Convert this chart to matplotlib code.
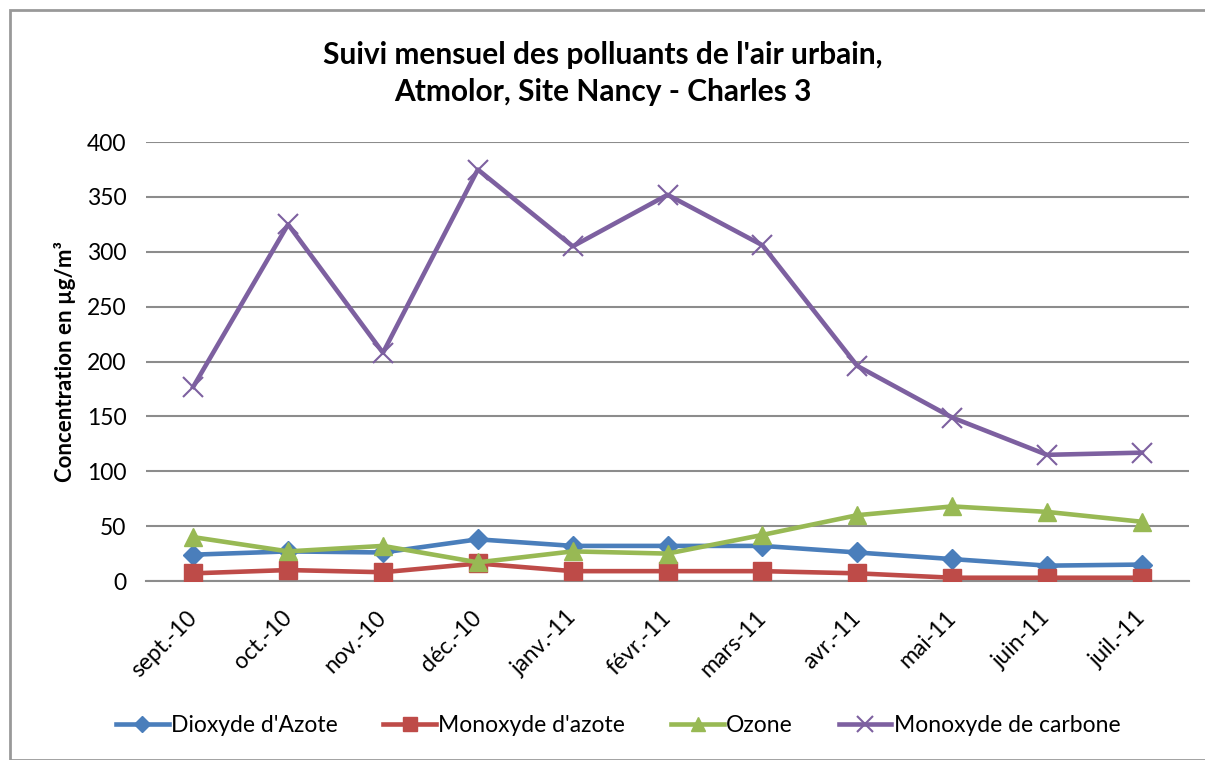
import matplotlib.pyplot as plt
from matplotlib.patches import Rectangle

plt.rcParams['font.family'] = ['Lato', 'DejaVu Sans']

months = ['sept.-10', 'oct.-10', 'nov.-10', 'déc.-10', 'janv.-11', 'févr.-11',
          'mars-11', 'avr.-11', 'mai-11', 'juin-11', 'juil.-11']
dioxyde_azote = [24, 27, 26, 38, 32, 32, 32, 26, 20, 14, 15]
monoxyde_azote = [7, 10, 8, 16, 9, 9, 9, 7, 3, 3, 3]
ozone = [40, 27, 32, 17, 27, 25, 42, 60, 68, 63, 54]
monoxyde_carbone = [177, 325, 208, 375, 305, 352, 306, 196, 149, 115, 117]

fig = plt.figure(figsize=(12.05, 7.6), dpi=100)
ax = fig.add_axes([0.121, 0.2355, 0.866, 0.5775])

x = list(range(len(months)))
ax.plot(x, dioxyde_azote, color='#4A7EBB', lw=3.3, marker='D', ms=10,
        label="Dioxyde d'Azote", zorder=3)
ax.plot(x, monoxyde_azote, color='#BE4B48', lw=3.3, marker='s', ms=13,
        label="Monoxyde d'azote", zorder=3)
ax.plot(x, ozone, color='#98B954', lw=3.3, marker='^', ms=13,
        label='Ozone', zorder=3)
ax.plot(x, monoxyde_carbone, color='#7D60A0', lw=3.3, marker='x', ms=14,
        mew=1.5, label='Monoxyde de carbone', zorder=3)

ax.set_xlim(-0.5, len(months) - 0.5)
ax.set_ylim(0, 400)
ax.set_yticks(range(0, 401, 50))
ax.set_xticks(x)
ax.set_xticklabels(months, rotation=45, ha='right', va='center', rotation_mode='anchor')
ax.tick_params(axis='both', labelsize=16.5, length=0)
ax.tick_params(axis='y', pad=14)
ax.tick_params(axis='x', pad=24)
ax.yaxis.grid(True, color='#8C8C8C', lw=1.5)
ax.set_axisbelow(True)
for s in ['top', 'right', 'left']:
    ax.spines[s].set_visible(False)
ax.spines['bottom'].set_color('#8C8C8C')
ax.spines['bottom'].set_linewidth(1.5)
ax.set_ylabel('Concentration en µg/m³', fontsize=16, fontweight='bold', labelpad=8)

fig.text(0.5, 0.903, "Suivi mensuel des polluants de l'air urbain,\nAtmolor, Site Nancy - Charles 3",
         ha='center', va='center', fontsize=21.5, fontweight='bold', linespacing=1.4)

fig.legend(loc='center', bbox_to_anchor=(0.513, 0.045), ncol=4, frameon=False,
           fontsize=16.5, handlelength=2.3, handletextpad=0.1, columnspacing=2.0,
           markerscale=0.8)

fig.patches.append(Rectangle((0.008, 0.0), 1.0, 0.987, transform=fig.transFigure,
                             fill=False, edgecolor='#999999', lw=2))

fig.savefig('out.png', dpi=100)
